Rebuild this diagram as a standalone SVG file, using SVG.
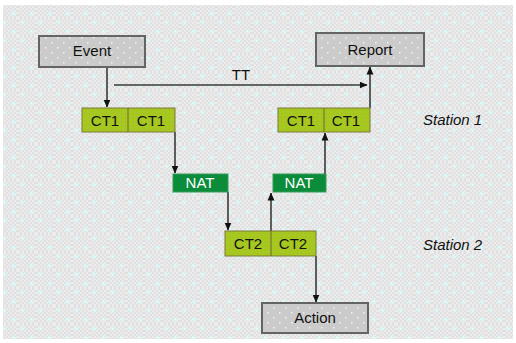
<svg xmlns="http://www.w3.org/2000/svg" width="516" height="343" viewBox="0 0 516 343">
  <style>
    .gbox { fill: url(#gfill); stroke: #646464; stroke-width: 2; }
    .ct { fill: url(#ctfill); stroke: #7a7a3a; stroke-width: 1; }
    .nat { fill: #0b8c3a; stroke: #3a9a5a; stroke-width: 1; }
    .lbl { font-family: "Liberation Sans", Arial, sans-serif; font-size: 15px; fill: #111; text-anchor: middle; }
    .natl { font-family: "Liberation Sans", Arial, sans-serif; font-size: 15px; fill: #ffffff; text-anchor: middle; }
    .st { font-family: "Liberation Sans", Arial, sans-serif; font-size: 15px; font-style: italic; fill: #111; }
    .conn { stroke: #3a3a3a; stroke-width: 1.6; fill: none; }
  </style>
  <defs>
    <pattern id="bg" width="18" height="18" patternUnits="userSpaceOnUse">
      <rect width="18" height="18" fill="#e0e0e0"/>
      <path d="M0 0h2v2h-2zM4 0h2v2h-2zM8 0h2v2h-2zM12 0h2v2h-2zM16 0h2v2h-2zM2 2h2v2h-2zM6 2h2v2h-2zM10 2h2v2h-2zM14 2h2v2h-2zM0 4h2v2h-2zM4 4h2v2h-2zM8 4h2v2h-2zM12 4h2v2h-2zM16 4h2v2h-2zM2 6h2v2h-2zM6 6h2v2h-2zM10 6h2v2h-2zM14 6h2v2h-2zM0 8h2v2h-2zM4 8h2v2h-2zM8 8h2v2h-2zM12 8h2v2h-2zM16 8h2v2h-2zM2 10h2v2h-2zM6 10h2v2h-2zM10 10h2v2h-2zM14 10h2v2h-2zM0 12h2v2h-2zM4 12h2v2h-2zM8 12h2v2h-2zM12 12h2v2h-2zM16 12h2v2h-2zM2 14h2v2h-2zM6 14h2v2h-2zM10 14h2v2h-2zM14 14h2v2h-2zM0 16h2v2h-2zM4 16h2v2h-2zM8 16h2v2h-2zM12 16h2v2h-2zM16 16h2v2h-2z" fill="#ececec"/>
      <path d="M4 2h1v5h-1zM2 4h5v1h-5zM13 11h1v5h-1zM11 13h5v1h-5z" fill="#c4fafa"/>
      <rect x="3.5" y="3.5" width="2" height="2" fill="#e4ffff"/>
      <rect x="12.5" y="12.5" width="2" height="2" fill="#e4ffff"/>
    </pattern>
    <pattern id="gfill" width="12" height="10" patternUnits="userSpaceOnUse">
      <rect width="12" height="10" fill="#cbcbcb"/>
      <rect x="3" y="2" width="1.5" height="1.5" fill="#f2f2f2"/>
      <rect x="9" y="7" width="1.5" height="1.5" fill="#f2f2f2"/>
    </pattern>
    <pattern id="ctfill" width="4" height="4" patternUnits="userSpaceOnUse">
      <rect width="4" height="4" fill="#a5c91e"/>
      <rect x="1" y="1" width="1" height="1" fill="#b8a838"/>
    </pattern>
    <marker id="ah" viewBox="0 0 8 8" refX="7.5" refY="4" markerWidth="8" markerHeight="8" markerUnits="userSpaceOnUse" orient="auto">
      <path d="M0 0.5 L8 4 L0 7.5 Z" fill="#111"/>
    </marker>
  </defs>

  <rect x="3" y="5" width="510" height="334" fill="url(#bg)"/>

  <g id="connectors">
    <line class="conn" x1="107" y1="67" x2="107" y2="107" marker-end="url(#ah)"/>
    <line class="conn" x1="114" y1="85" x2="367" y2="85" marker-end="url(#ah)"/>
    <line class="conn" x1="175" y1="132" x2="175" y2="173" marker-end="url(#ah)"/>
    <line class="conn" x1="228" y1="192" x2="228" y2="230" marker-end="url(#ah)"/>
    <line class="conn" x1="271" y1="231" x2="271" y2="193" marker-end="url(#ah)"/>
    <line class="conn" x1="325" y1="174" x2="325" y2="133" marker-end="url(#ah)"/>
    <line class="conn" x1="370" y1="108" x2="370" y2="67" marker-end="url(#ah)"/>
    <line class="conn" x1="316" y1="256" x2="316" y2="302" marker-end="url(#ah)"/>
    <text class="lbl" x="241" y="80">TT</text>
  </g>

  <g id="event">
    <rect class="gbox" x="39" y="36" width="106" height="31"/>
    <text class="lbl" x="92" y="56">Event</text>
  </g>
  <g id="report">
    <rect class="gbox" x="316" y="33" width="108" height="33"/>
    <text class="lbl" x="370" y="55">Report</text>
  </g>
  <g id="ct1-left">
    <rect class="ct" x="82" y="108" width="93" height="24"/>
    <line x1="128" y1="108" x2="128" y2="132" stroke="#6b6b30" stroke-width="1"/>
    <text class="lbl" x="105" y="126">CT1</text>
    <text class="lbl" x="151" y="126">CT1</text>
  </g>
  <g id="ct1-right">
    <rect class="ct" x="278" y="108" width="92" height="24"/>
    <line x1="324" y1="108" x2="324" y2="132" stroke="#6b6b30" stroke-width="1"/>
    <text class="lbl" x="301" y="126">CT1</text>
    <text class="lbl" x="346" y="126">CT1</text>
  </g>
  <g id="nat-left">
    <rect class="nat" x="173" y="174" width="55" height="18"/>
    <text class="natl" x="200" y="188">NAT</text>
  </g>
  <g id="nat-right">
    <rect class="nat" x="273" y="174" width="53" height="18"/>
    <text class="natl" x="299" y="188">NAT</text>
  </g>
  <g id="ct2">
    <rect class="ct" x="225" y="231" width="91" height="25"/>
    <line x1="271" y1="231" x2="271" y2="256" stroke="#6b6b30" stroke-width="1"/>
    <text class="lbl" x="248" y="249">CT2</text>
    <text class="lbl" x="293" y="249">CT2</text>
  </g>
  <g id="action">
    <rect class="gbox" x="262" y="303" width="106" height="30"/>
    <text class="lbl" x="315" y="323">Action</text>
  </g>
  <g id="station1">
    <text class="st" x="423" y="125">Station 1</text>
  </g>
  <g id="station2">
    <text class="st" x="423" y="250">Station 2</text>
  </g>
</svg>
